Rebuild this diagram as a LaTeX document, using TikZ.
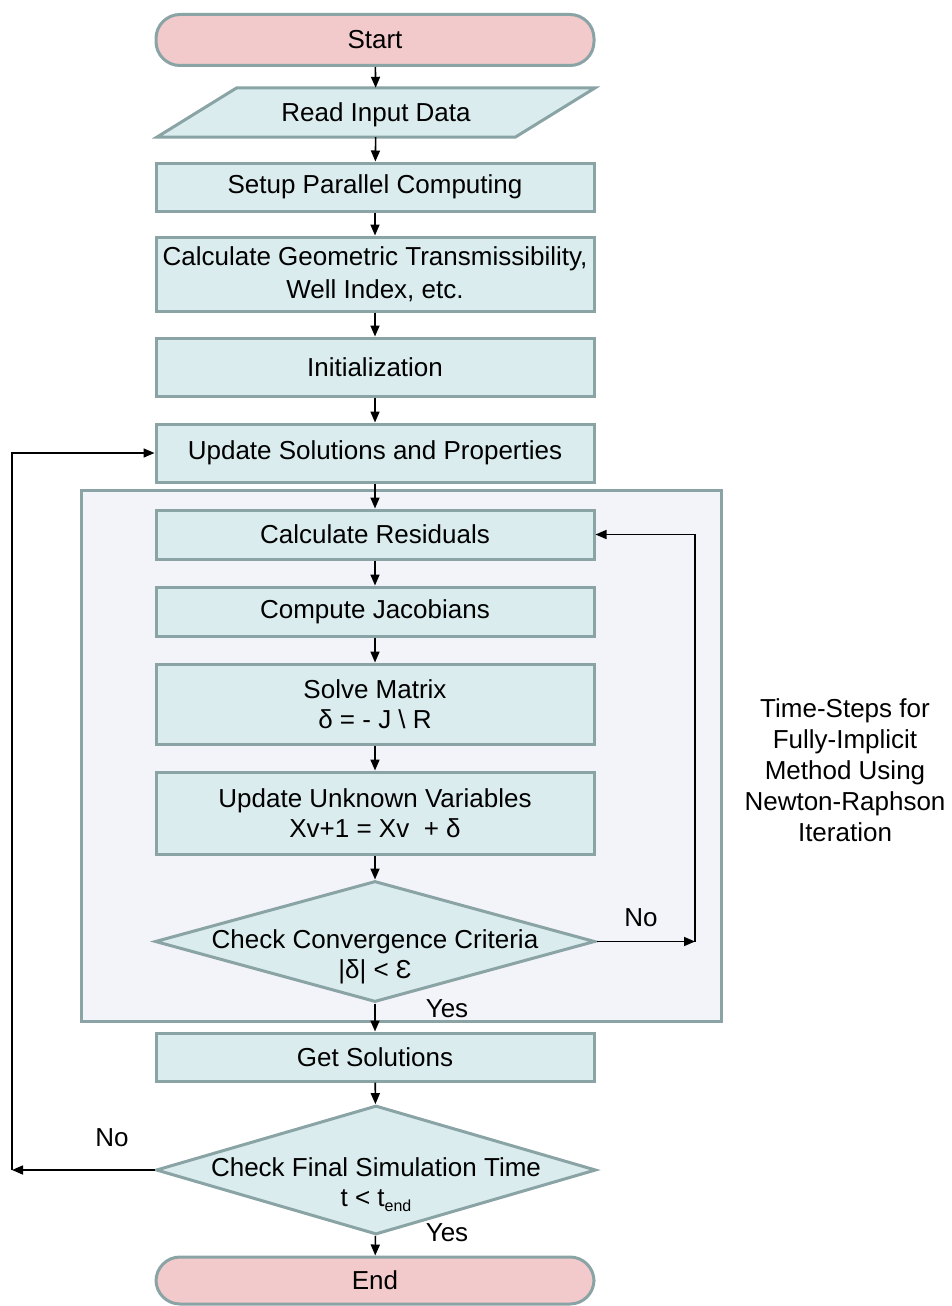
\documentclass[tikz,border=0pt]{standalone}
\usepackage{fontspec}
\setmainfont{Liberation Sans}
\usetikzlibrary{arrows.meta,shapes.geometric}
\definecolor{boxfill}{RGB}{218,236,238}
\definecolor{boxline}{RGB}{138,163,165}
\definecolor{termfill}{RGB}{242,202,203}
\definecolor{groupfill}{RGB}{243,244,249}
\newcommand{\mainfs}{\fontsize{26}{30}\selectfont}
\begin{document}
\begin{tikzpicture}[x=1pt,y=-1pt,
  base/.style={draw=boxline, line width=3pt, minimum width=438pt, inner sep=0pt,
    align=center, font=\mainfs},
  proc/.style={base, rectangle, fill=boxfill},
  term/.style={base, rectangle, rounded corners=24pt, fill=termfill},
  dec/.style={draw=boxline, line width=3pt, shape=diamond, fill=boxfill, inner sep=0pt,
    minimum width=440pt},
  txt/.style={align=center, inner sep=0pt, font=\mainfs},
  flow/.style={-{Triangle[length=11pt,width=9pt]}, line width=1.6pt, black},
  lbl/.style={inner sep=0pt, font=\mainfs}
]
\useasboundingbox (0,0) rectangle (951,1306);

% Newton-Raphson group frame
\node (group) [draw=boxline, line width=3pt, fill=groupfill, minimum width=640pt,
  minimum height=531pt, inner sep=0pt] at (401,755.5) {};

% main column
\node (start) [term, minimum height=51pt] at (375,40) {Start};
\node (read) [minimum width=438pt, minimum height=49pt, inner sep=0pt, font=\mainfs] at (376,112.5) {};
\draw[draw=boxline, line width=3pt, fill=boxfill, line join=miter]
  ([xshift=80pt]read.north west) -- (read.north east) -- ([xshift=-80pt]read.south east)
  -- (read.south west) -- cycle;
\node[txt] at ([yshift=-2pt]read.center) {Read Input Data};
\node (setup) [proc, minimum height=48pt] at (375,187) {Setup Parallel Computing};
\node (geom) [proc, minimum height=74pt, font=\fontsize{26}{33}\selectfont] at (375,274)
  {Calculate Geometric Transmissibility,\\Well Index, etc.};
\node (init) [proc, minimum height=58pt] at (375,367) {Initialization};
\node (upd) [proc, minimum height=58pt] at (375,453) {Update Solutions and Properties};
\node (res) [proc, minimum height=49pt] at (375,534.5) {Calculate Residuals};
\node (jac) [proc, minimum height=49pt] at (375,611.5) {Compute Jacobians};
\node (solve) [proc, minimum height=80pt] at (375,704) {Solve Matrix\\δ = - J \textbackslash{} R};
\node (unk) [proc, minimum height=82pt] at (375,813) {Update Unknown Variables\\Xv+1 = Xv\ \ + δ};
\node (conv) [dec, minimum height=121pt] at (375,941.5) {};
\node (convt) [txt] at ([yshift=-15pt]conv.center) {Check Convergence Criteria\\|δ| < Ɛ};
\node (get) [proc, minimum height=48pt] at (375,1057) {Get Solutions};
\node (fin) [dec, minimum height=129pt] at (376,1170) {};
\node (fint) [txt] at ([yshift=-15pt]fin.center)
  {Check Final Simulation Time\\t < t\raisebox{-0.35ex}{\fontsize{16}{16}\selectfont end}};
\node (end) [term, minimum height=47pt] at (375,1280.5) {End};

% side note
\node (note) [txt, font=\fontsize{26}{31}\selectfont] at (845,770)
  {Time-Steps for\\Fully-Implicit\\Method Using\\Newton-Raphson\\Iteration};

% straight flow
\draw[flow] (start) -- (read);
\draw[flow] (read) -- (setup);
\draw[flow] (setup) -- (geom);
\draw[flow] (geom) -- (init);
\draw[flow] (init) -- (upd);
\draw[flow] (upd) -- (res);
\draw[flow] (res) -- (jac);
\draw[flow] (jac) -- (solve);
\draw[flow] (solve) -- (unk);
\draw[flow] (unk) -- (conv);
\draw[flow] (conv) -- (get);
\draw[flow] (get) -- (fin);
\draw[flow] (fin) -- (end);

% Newton iteration loop
\coordinate (rturn) at (695,0);
\coordinate (rcorner) at (conv.east -| rturn);
\draw[flow] (conv.east) -- (rcorner);
\draw[flow] (rcorner) |- (res.east);

% time-step loop
\coordinate (lturn) at (12,0);
\coordinate (lcorner) at (fin.west -| lturn);
\draw[flow] (fin.west) -- (lcorner);
\draw[flow] (lcorner) |- (upd.west);

% branch labels
\node[lbl] (no1) at (641,918) {No};
\node[lbl] (yes1) at (447,1009) {Yes};
\node[lbl] (no2) at (112,1138) {No};
\node[lbl] (yes2) at (447,1233) {Yes};
\end{tikzpicture}
\end{document}
